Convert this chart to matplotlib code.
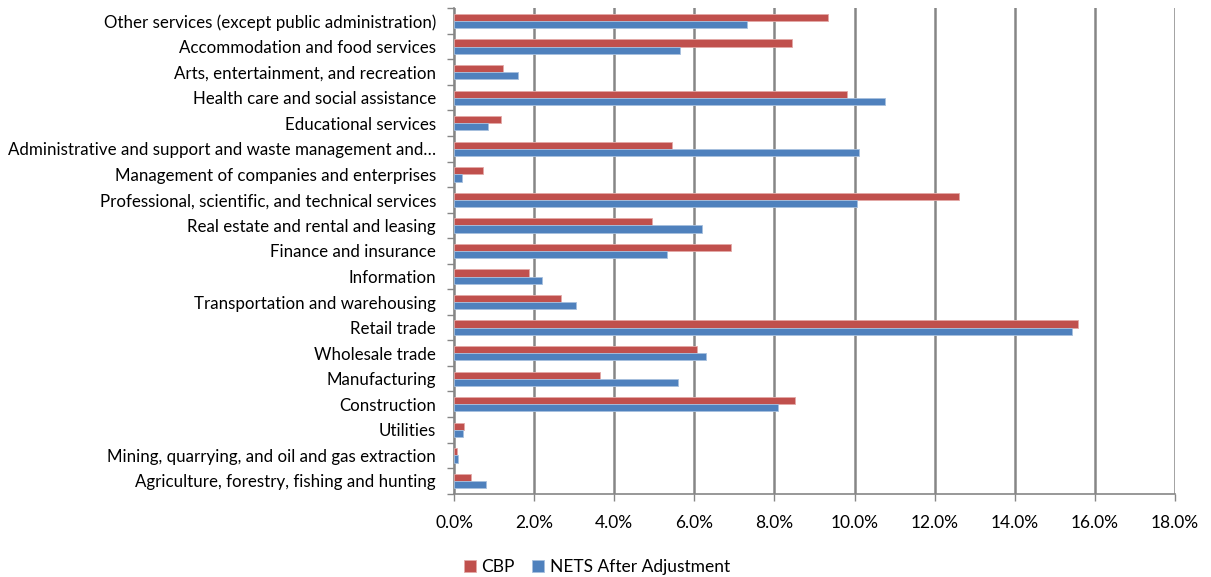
import matplotlib
matplotlib.use("Agg")
from matplotlib import pyplot as plt
from matplotlib.ticker import FuncFormatter, MultipleLocator
import numpy as np

categories = ["Agriculture, forestry, fishing and hunting",
              "Mining, quarrying, and oil and gas extraction",
              "Utilities",
              "Construction",
              "Manufacturing",
              "Wholesale trade",
              "Retail trade",
              "Transportation and warehousing",
              "Information",
              "Finance and insurance",
              "Real estate and rental and leasing",
              "Professional, scientific, and technical services",
              "Management of companies and enterprises",
              "Administrative and support and waste management and\u2026",
              "Educational services",
              "Health care and social assistance",
              "Arts, entertainment, and recreation",
              "Accommodation and food services",
              "Other services (except public administration)"]

cbp = [0.42, 0.07, 0.26, 8.52, 3.65, 6.06, 15.57, 2.66, 1.86, 6.92,
       4.94, 12.60, 0.73, 5.45, 1.17, 9.81, 1.22, 8.45, 9.33]
nets = [0.81, 0.10, 0.22, 8.08, 5.60, 6.29, 15.44, 3.05, 2.19, 5.31,
        6.20, 10.05, 0.20, 10.10, 0.84, 10.76, 1.59, 5.65, 7.32]

plt.rcParams['font.family'] = ['Lato', 'DejaVu Sans']

fig = plt.figure(figsize=(12.11, 5.77), dpi=100)
ax = fig.add_axes([0.3749, 0.1444, 0.5954, 0.8412])

y = np.arange(len(categories))
h = 0.28
ax.barh(y + h / 2, cbp, height=h, color="#C0504D", edgecolor="#E3A9A7", linewidth=0.6, label="CBP", zorder=3)
ax.barh(y - h / 2, nets, height=h, color="#4F81BD", edgecolor="#A7C0DE", linewidth=0.6, label="NETS After Adjustment", zorder=3)

ax.set_xlim(0, 18)
ax.set_ylim(-0.5, len(categories) - 0.5)
ax.xaxis.set_major_locator(MultipleLocator(2))
ax.xaxis.set_major_formatter(FuncFormatter(lambda v, p: "{:.1f}%".format(v)))
ax.grid(axis="x", color="#868686", linewidth=1.8, zorder=0)

ax.set_yticks(y)
ax.set_yticklabels(categories, fontsize=12.2)
ax.set_yticks(np.arange(-0.5, len(categories)), minor=True)
ax.tick_params(axis="y", which="major", length=0, pad=13)
ax.tick_params(axis="y", which="minor", length=5, color="#868686", width=1)
ax.tick_params(axis="x", length=5, color="#868686", width=1, labelsize=12.5, pad=10)

for s in ["top", "right"]:
    ax.spines[s].set_visible(False)
ax.spines["left"].set_color("#868686")
ax.spines["left"].set_linewidth(1.2)
ax.spines["bottom"].set_color("#868686")
ax.spines["bottom"].set_linewidth(1.2)

handles, labels = ax.get_legend_handles_labels()
fig.legend(handles, labels, loc="center", bbox_to_anchor=(0.493, 0.017), ncol=2, frameon=False,
           fontsize=12.5, handlelength=0.7, handleheight=0.7, handletextpad=0.3, columnspacing=1.0)

fig.savefig("out.png", dpi=100)
